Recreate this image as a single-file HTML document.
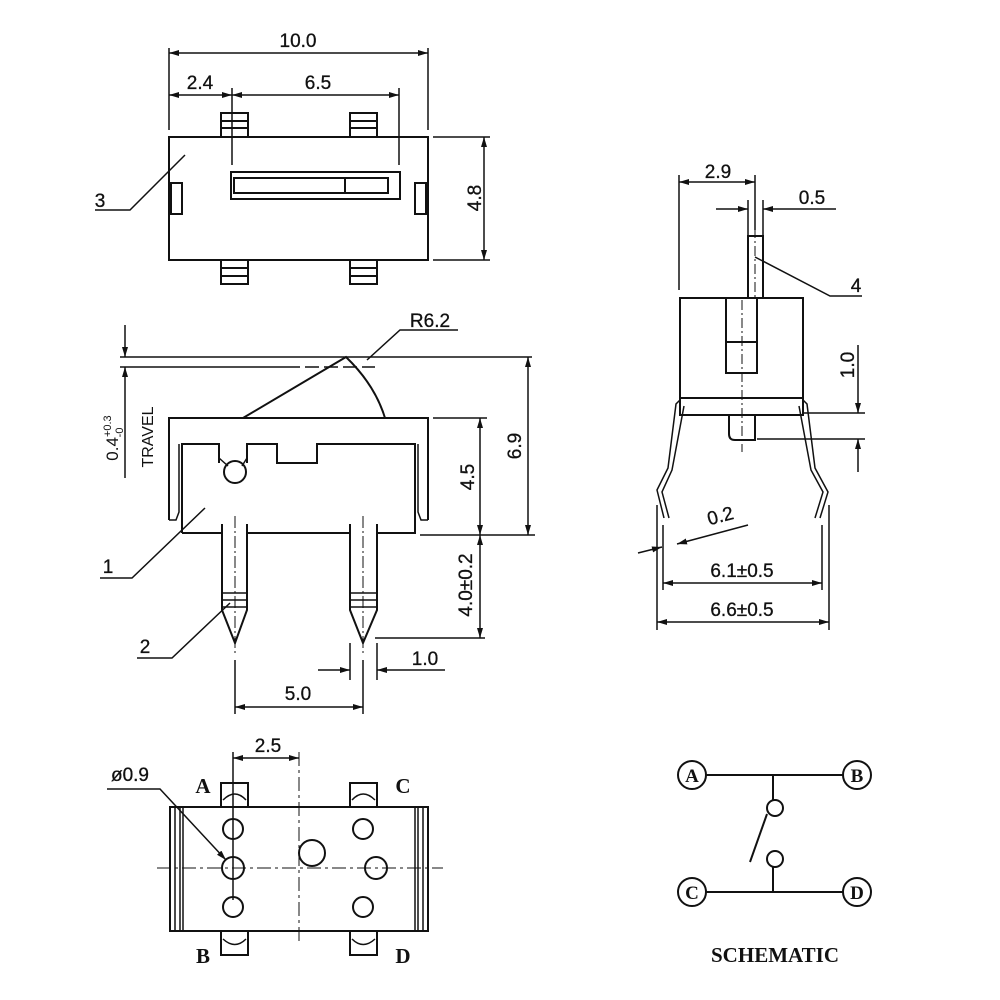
<!DOCTYPE html>
<html><head><meta charset="utf-8"><style>
html,body{margin:0;padding:0;background:#fff}
svg{display:block}
text{font-family:"Liberation Sans",sans-serif;fill:#111}
.s{fill:#111;font-family:"Liberation Serif",serif;font-weight:bold}
</style></head><body>
<svg width="1000" height="1000" viewBox="0 0 1000 1000" xmlns="http://www.w3.org/2000/svg">
<defs>
<marker id="a" viewBox="0 0 10 6" refX="10" refY="3" markerWidth="10" markerHeight="6" orient="auto-start-reverse" markerUnits="userSpaceOnUse"><path d="M0,0L10,3L0,6z" fill="#111"/></marker>
</defs>
<g stroke="#111" stroke-width="2" fill="none">
<!-- TOP VIEW -->
<rect x="169" y="137" width="259" height="123"/>
<rect x="221" y="113" width="27" height="24"/><line x1="221" y1="121" x2="248" y2="121"/><line x1="221" y1="128" x2="248" y2="128"/>
<rect x="350" y="113" width="27" height="24"/><line x1="350" y1="121" x2="377" y2="121"/><line x1="350" y1="128" x2="377" y2="128"/>
<rect x="221" y="260" width="27" height="24"/><line x1="221" y1="268" x2="248" y2="268"/><line x1="221" y1="276" x2="248" y2="276"/>
<rect x="350" y="260" width="27" height="24"/><line x1="350" y1="268" x2="377" y2="268"/><line x1="350" y1="276" x2="377" y2="276"/>
<rect x="231" y="172" width="169" height="27"/>
<rect x="234" y="178" width="154" height="15"/><line x1="345" y1="178" x2="345" y2="193"/>
<rect x="171" y="183" width="11" height="31"/><rect x="415" y="183" width="11" height="31"/>
<line x1="169" y1="48" x2="169" y2="130" stroke-width="1.5"/><line x1="428" y1="48" x2="428" y2="130" stroke-width="1.5"/>
<line x1="169" y1="53" x2="428" y2="53" stroke-width="1.5" marker-start="url(#a)" marker-end="url(#a)"/>
<line x1="232" y1="88" x2="232" y2="165" stroke-width="1.5"/><line x1="399" y1="88" x2="399" y2="165" stroke-width="1.5"/>
<line x1="169" y1="95" x2="232" y2="95" stroke-width="1.5" marker-start="url(#a)" marker-end="url(#a)"/>
<line x1="232" y1="95" x2="399" y2="95" stroke-width="1.5" marker-start="url(#a)" marker-end="url(#a)"/>
<line x1="433" y1="137" x2="490" y2="137" stroke-width="1.5"/><line x1="433" y1="260" x2="490" y2="260" stroke-width="1.5"/>
<line x1="484" y1="137" x2="484" y2="260" stroke-width="1.5" marker-start="url(#a)" marker-end="url(#a)"/>
<polyline points="185,155 130,210 95,210" stroke-width="1.5"/>
<!-- SIDE VIEW -->
<path d="M169,520 V418 H428 V520"/>
<path d="M169,520 h7 l3,-8 V444" stroke-width="1.5"/>
<path d="M428,520 h-7 l-3,-8 V444" stroke-width="1.5"/>
<path d="M182,533 V444 H219 V463 M247,463 V444 H277 V463 H317 V444 H415 V533 H377 M350,533 H247 M222,533 H182"/>
<circle cx="235" cy="472" r="11"/>
<line x1="219" y1="458" x2="228" y2="466" stroke-width="1.5"/><line x1="247" y1="458" x2="242" y2="466" stroke-width="1.5"/>
<path d="M243,418 L346,357 Q375,385 385,418"/>
<line x1="120" y1="357" x2="532" y2="357" stroke-width="1.5"/>
<line x1="120" y1="367" x2="300" y2="367" stroke-width="1.5"/><line x1="305" y1="367" x2="375" y2="367" stroke-width="1.5" stroke-dasharray="14,5"/>
<line x1="125" y1="325" x2="125" y2="357" stroke-width="1.5" marker-end="url(#a)"/>
<line x1="125" y1="478" x2="125" y2="367" stroke-width="1.5" marker-end="url(#a)"/>
<polyline points="458,330 400,330 367,360" stroke-width="1.5"/>
<line x1="433" y1="418" x2="487" y2="418" stroke-width="1.5"/>
<line x1="420" y1="535" x2="535" y2="535" stroke-width="1.5"/>
<line x1="480" y1="418" x2="480" y2="535" stroke-width="1.5" marker-start="url(#a)" marker-end="url(#a)"/>
<line x1="528" y1="357" x2="528" y2="535" stroke-width="1.5" marker-start="url(#a)" marker-end="url(#a)"/>
<line x1="480" y1="535" x2="480" y2="638" stroke-width="1.5" marker-start="url(#a)" marker-end="url(#a)"/>
<line x1="375" y1="638" x2="485" y2="638" stroke-width="1.5"/>
<!-- pins -->
<path d="M222,524 V610 L235,643 L247,610 V524"/>
<line x1="222" y1="593" x2="247" y2="593" stroke-width="1.5"/><line x1="222" y1="600" x2="247" y2="600" stroke-width="1.5"/><line x1="222" y1="607" x2="247" y2="607" stroke-width="1.5"/>
<path d="M350,524 V610 L363,643 L377,610 V524"/>
<line x1="350" y1="593" x2="377" y2="593" stroke-width="1.5"/><line x1="350" y1="600" x2="377" y2="600" stroke-width="1.5"/><line x1="350" y1="607" x2="377" y2="607" stroke-width="1.5"/>
<line x1="235" y1="516" x2="235" y2="655" stroke-width="1" stroke-dasharray="12,3,2,3"/>
<line x1="363" y1="516" x2="363" y2="655" stroke-width="1" stroke-dasharray="12,3,2,3"/>
<line x1="350" y1="643" x2="350" y2="680" stroke-width="1.5"/><line x1="377" y1="643" x2="377" y2="680" stroke-width="1.5"/>
<line x1="318" y1="670" x2="350" y2="670" stroke-width="1.5" marker-end="url(#a)"/>
<line x1="445" y1="670" x2="377" y2="670" stroke-width="1.5" marker-end="url(#a)"/>
<line x1="235" y1="660" x2="235" y2="714" stroke-width="1.5"/><line x1="363" y1="660" x2="363" y2="714" stroke-width="1.5"/>
<line x1="235" y1="707" x2="363" y2="707" stroke-width="1.5" marker-start="url(#a)" marker-end="url(#a)"/>
<polyline points="205,508 132,578 100,578" stroke-width="1.5"/>
<polyline points="230,603 172,658 137,658" stroke-width="1.5"/>
<!-- RIGHT VIEW -->
<rect x="680" y="298" width="123" height="117"/>
<line x1="680" y1="398" x2="803" y2="398"/>
<path d="M726,298 V373 H757 V298"/>
<rect x="726" y="342" width="31" height="31"/>
<rect x="748" y="236" width="15" height="62"/>
<path d="M729,415 V434 Q729,440 735,440 H755 V415"/>
<line x1="742" y1="300" x2="742" y2="452" stroke-width="1" stroke-dasharray="10,3,2,3"/>
<line x1="755" y1="228" x2="755" y2="300" stroke-width="1" stroke-dasharray="10,3,2,3"/>
<path d="M680,400 L676,404 L668,468 L657,490 L664,518" stroke-width="1.5"/>
<path d="M684,406 L672,470 L662,492 L669,518" stroke-width="1.5"/>
<path d="M803,400 L807,404 L815,468 L828,492 L820,518" stroke-width="1.5"/>
<path d="M799,406 L811,470 L823,492 L815,518" stroke-width="1.5"/>
<line x1="679" y1="175" x2="679" y2="290" stroke-width="1.5"/><line x1="755" y1="175" x2="755" y2="230" stroke-width="1.5"/>
<line x1="679" y1="182" x2="755" y2="182" stroke-width="1.5" marker-start="url(#a)" marker-end="url(#a)"/>
<line x1="748" y1="200" x2="748" y2="236" stroke-width="1.5"/><line x1="763" y1="200" x2="763" y2="236" stroke-width="1.5"/>
<line x1="716" y1="209" x2="748" y2="209" stroke-width="1.5" marker-end="url(#a)"/>
<line x1="836" y1="209" x2="763" y2="209" stroke-width="1.5" marker-end="url(#a)"/>
<polyline points="755,257 830,296 862,296" stroke-width="1.5"/>
<line x1="803" y1="413" x2="865" y2="413" stroke-width="1.5"/><line x1="757" y1="439" x2="865" y2="439" stroke-width="1.5"/>
<line x1="858" y1="345" x2="858" y2="413" stroke-width="1.5" marker-end="url(#a)"/>
<line x1="858" y1="472" x2="858" y2="439" stroke-width="1.5" marker-end="url(#a)"/>
<line x1="638" y1="553" x2="662" y2="547" stroke-width="1.5" marker-end="url(#a)"/>
<line x1="748" y1="525" x2="677" y2="544" stroke-width="1.5" marker-end="url(#a)"/>
<line x1="663" y1="525" x2="663" y2="590" stroke-width="1.5"/><line x1="822" y1="525" x2="822" y2="590" stroke-width="1.5"/>
<line x1="657" y1="505" x2="657" y2="630" stroke-width="1.5"/><line x1="829" y1="505" x2="829" y2="630" stroke-width="1.5"/>
<line x1="663" y1="583" x2="822" y2="583" stroke-width="1.5" marker-start="url(#a)" marker-end="url(#a)"/>
<line x1="657" y1="622" x2="829" y2="622" stroke-width="1.5" marker-start="url(#a)" marker-end="url(#a)"/>
<!-- BOTTOM VIEW -->
<rect x="170" y="807" width="258" height="124"/>
<line x1="175" y1="807" x2="175" y2="931" stroke-width="1.5"/><line x1="180" y1="807" x2="180" y2="931" stroke-width="1.5"/><line x1="183" y1="807" x2="183" y2="931" stroke-width="1.5"/>
<line x1="423" y1="807" x2="423" y2="931" stroke-width="1.5"/><line x1="418" y1="807" x2="418" y2="931" stroke-width="1.5"/><line x1="415" y1="807" x2="415" y2="931" stroke-width="1.5"/>
<rect x="221" y="783" width="27" height="24"/><path d="M223,800 Q235,788 246,800" stroke-width="1.5"/>
<rect x="350" y="783" width="27" height="24"/><path d="M352,800 Q363,788 375,800" stroke-width="1.5"/>
<rect x="221" y="931" width="27" height="24"/><path d="M223,939 Q235,950 246,939" stroke-width="1.5"/>
<rect x="350" y="931" width="27" height="24"/><path d="M352,939 Q363,950 375,939" stroke-width="1.5"/>
<circle cx="233" cy="829" r="10"/><circle cx="233" cy="868" r="11"/><circle cx="233" cy="907" r="10"/>
<circle cx="363" cy="829" r="10"/><circle cx="376" cy="868" r="11"/><circle cx="363" cy="907" r="10"/>
<circle cx="312" cy="853" r="13"/>
<line x1="157" y1="868" x2="443" y2="868" stroke-width="1" stroke-dasharray="14,4,3,4"/>
<line x1="233" y1="752" x2="233" y2="900" stroke-width="1.5"/>
<line x1="299" y1="752" x2="299" y2="945" stroke-width="1" stroke-dasharray="14,4,3,4"/>
<line x1="233" y1="758" x2="299" y2="758" stroke-width="1.5" marker-start="url(#a)" marker-end="url(#a)"/>
<polyline points="107,789 160,789 226,860" stroke-width="1.5" marker-end="url(#a)"/>
<!-- SCHEMATIC -->
<circle cx="692" cy="775" r="14"/><circle cx="857" cy="775" r="14"/>
<circle cx="692" cy="892" r="14"/><circle cx="857" cy="892" r="14"/>
<line x1="706" y1="775" x2="843" y2="775"/><line x1="706" y1="892" x2="843" y2="892"/>
<line x1="773" y1="775" x2="773" y2="800"/><circle cx="775" cy="808" r="8"/>
<circle cx="775" cy="859" r="8"/><line x1="773" y1="867" x2="773" y2="892"/>
<line x1="750" y1="862" x2="767" y2="814"/>
</g>
<g font-size="19" stroke="#111" stroke-width="0.3">
<text x="298" y="47" text-anchor="middle">10.0</text>
<text x="200" y="89" text-anchor="middle">2.4</text>
<text x="318" y="89" text-anchor="middle">6.5</text>
<text x="475" y="198" text-anchor="middle" transform="rotate(-90 475 198)" dy="6">4.8</text>
<text x="100" y="207" text-anchor="middle">3</text>
<text x="430" y="327" text-anchor="middle">R6.2</text>
<text x="468" y="477" text-anchor="middle" transform="rotate(-90 468 477)" dy="6">4.5</text>
<text x="515" y="446" text-anchor="middle" transform="rotate(-90 515 446)" dy="6">6.9</text>
<text x="466" y="585" text-anchor="middle" transform="rotate(-90 466 585)" dy="6">4.0±0.2</text>
<text x="425" y="665" text-anchor="middle">1.0</text>
<text x="298" y="700" text-anchor="middle">5.0</text>
<text x="108" y="573" text-anchor="middle">1</text>
<text x="145" y="653" text-anchor="middle">2</text>
<text x="718" y="178" text-anchor="middle">2.9</text>
<text x="812" y="204" text-anchor="middle">0.5</text>
<text x="856" y="292" text-anchor="middle">4</text>
<text x="848" y="365" text-anchor="middle" transform="rotate(-90 848 365)" dy="6">1.0</text>
<text x="722" y="522" text-anchor="middle" transform="rotate(-15 722 522)">0.2</text>
<text x="742" y="577" text-anchor="middle">6.1±0.5</text>
<text x="742" y="616" text-anchor="middle">6.6±0.5</text>
<text x="268" y="752" text-anchor="middle">2.5</text>
<text x="130" y="781" text-anchor="middle">ø0.9</text>
</g>
<text x="112" y="438" font-size="17" text-anchor="middle" transform="rotate(-90 112 438)" dy="6">0.4<tspan font-size="11" dy="-7">+0.3</tspan><tspan font-size="11" dx="-22" dy="12">-0</tspan></text>
<text x="148" y="437" font-size="16" text-anchor="middle" transform="rotate(-90 148 437)" dy="5">TRAVEL</text>
<g class="s" font-size="21">
<text class="s" x="203" y="793" text-anchor="middle">A</text>
<text class="s" x="403" y="793" text-anchor="middle">C</text>
<text class="s" x="203" y="963" text-anchor="middle">B</text>
<text class="s" x="403" y="963" text-anchor="middle">D</text>
<text class="s" x="692" y="782" text-anchor="middle" font-size="19">A</text>
<text class="s" x="857" y="782" text-anchor="middle" font-size="19">B</text>
<text class="s" x="692" y="899" text-anchor="middle" font-size="19">C</text>
<text class="s" x="857" y="899" text-anchor="middle" font-size="19">D</text>
<text class="s" x="775" y="962" text-anchor="middle" font-size="21" textLength="128" lengthAdjust="spacingAndGlyphs">SCHEMATIC</text>
</g>
</svg>
</body></html>
